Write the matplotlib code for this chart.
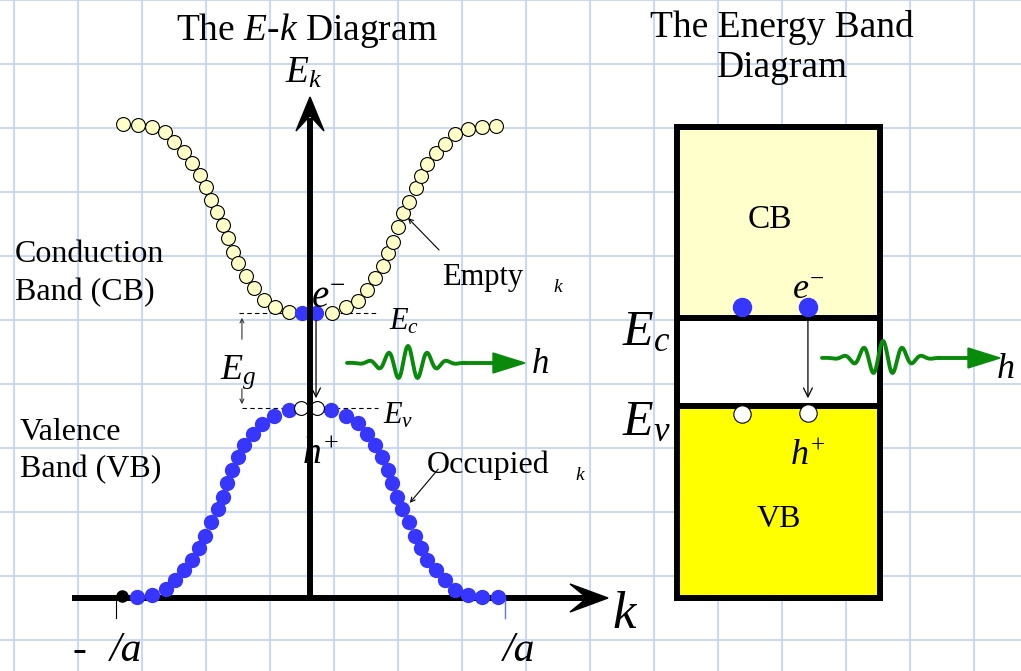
import numpy as np
import matplotlib.pyplot as plt
from matplotlib.patches import Polygon, Rectangle

plt.rcParams["font.family"] = ["Liberation Serif", "DejaVu Serif"]
plt.rcParams["mathtext.fontset"] = "custom"
plt.rcParams["mathtext.rm"] = "Liberation Serif"
plt.rcParams["mathtext.it"] = "Liberation Serif:italic"

W, H = 1021, 671

# E-k points: k in units of pi/a, E in arbitrary units (0 = k axis)
cb_k_left = [-0.961, -0.884, -0.812, -0.746, -0.699, -0.648, -0.607, -0.566, -0.535, -0.509,
             -0.478, -0.447, -0.422, -0.396, -0.370, -0.329, -0.288, -0.237, -0.180, -0.108]
cb_E_left = [4.74, 4.73, 4.71, 4.66, 4.56, 4.46, 4.35, 4.23, 4.11, 3.98,
             3.86, 3.73, 3.60, 3.46, 3.35, 3.22, 3.10, 2.98, 2.91, 2.86]
cb_k_right = [0.113, 0.185, 0.247, 0.293, 0.334, 0.375, 0.401, 0.427, 0.452, 0.478,
              0.509, 0.545, 0.571, 0.602, 0.648, 0.694, 0.746, 0.812, 0.884, 0.956]
cb_E_right = [2.85, 2.91, 2.97, 3.08, 3.20, 3.32, 3.45, 3.56, 3.71, 3.85,
              3.96, 4.10, 4.22, 4.34, 4.45, 4.54, 4.64, 4.69, 4.71, 4.72]
# electrons sitting at the CB minimum
cb_k_electrons = [-0.041, 0.031]
cb_E_electrons = [2.85, 2.85]

vb_k_left = [-0.967, -0.889, -0.812, -0.740, -0.694, -0.648, -0.607, -0.571, -0.540, -0.509,
             -0.473, -0.447, -0.427, -0.401, -0.370, -0.339, -0.293, -0.247, -0.185, -0.108]
vb_E_left = [0.02, 0.01, 0.03, 0.09, 0.18, 0.28, 0.38, 0.50, 0.62, 0.76,
             0.89, 1.01, 1.15, 1.28, 1.41, 1.53, 1.64, 1.74, 1.82, 1.88]
vb_k_right = [0.108, 0.185, 0.247, 0.293, 0.334, 0.370, 0.401, 0.422, 0.447, 0.473,
              0.509, 0.540, 0.571, 0.602, 0.648, 0.694, 0.746, 0.812, 0.884, 0.967]
vb_E_right = [1.88, 1.82, 1.75, 1.64, 1.53, 1.41, 1.28, 1.15, 1.01, 0.89,
              0.76, 0.62, 0.50, 0.38, 0.28, 0.18, 0.08, 0.03, 0.01, 0.01]
# holes left at the VB maximum
vb_k_holes = [-0.046, 0.036]
vb_E_holes = [1.90, 1.90]

Ec = 2.85
Ev = 1.90

# energy band diagram (x is fraction of box width)
box_bottom, box_Ev, box_Ec, box_top = 0.0, 1.92, 2.80, 4.71
band_e_x = [0.32, 0.645]
band_e_E = [2.91, 2.91]
band_h_x = [0.32, 0.645]
band_h_E = [1.84, 1.85]

GRID = "#c9d7fa"
GREEN = "#0a8a0a"
BLUE = "#3636ff"


def pixel_axes(fig):
    ax = fig.add_axes([0, 0, 1, 1])
    ax.set_xlim(0, W)
    ax.set_ylim(H, 0)
    ax.axis("off")
    ax.patch.set_alpha(0)
    return ax


def arrow_head(ax, tip, direction, length, width, notch=0.55, **kw):
    tip = np.array(tip, float)
    d = np.array(direction, float)
    n = np.array([-d[1], d[0]])
    pts = [tip,
           tip - d * length + n * width / 2,
           tip - d * length * notch,
           tip - d * length - n * width / 2]
    ax.add_patch(Polygon(pts, closed=True, **kw))


def photon(ax, x0, y0):
    xs = np.linspace(x0, x0 + 118, 400)
    xc = x0 + 61
    env = np.exp(-((xs - xc) / 27) ** 2)
    ys = y0 - 17 * env * np.cos(2 * np.pi * (xs - xc) / 19.5)
    ax.plot(xs, ys, color=GREEN, lw=2.8, zorder=8, solid_capstyle="round")
    ax.plot([x0 + 117, x0 + 150], [y0, y0], color=GREEN, lw=2.8, zorder=8)
    ax.add_patch(Polygon([(x0 + 146, y0 - 10), (x0 + 178, y0), (x0 + 146, y0 + 10)],
                         closed=True, color=GREEN, zorder=8))


def main():
    fig = plt.figure(figsize=(W / 100, H / 100), dpi=100)

    # bottom layer: grid paper and the k axis
    base = pixel_axes(fig)
    for x in np.arange(14, W, 64):
        base.axvline(x, color=GRID, lw=1.4, zorder=0)
    for y in np.arange(0, H, 64):
        base.axhline(y, color=GRID, lw=1.4, zorder=0)
    base.plot([72, 592], [598, 598], color="black", lw=4.3, zorder=2, solid_capstyle="butt")
    arrow_head(base, (608, 598), (1, 0), 38, 28, color="black", zorder=3)

    # E-k data axes
    ek = fig.add_axes([0, 0, 1, 1])
    ek.set_xlim(-310 / 194.5, (W - 310) / 194.5)
    ek.set_ylim(-0.73, 5.98)
    ek.axis("off")
    ek.patch.set_alpha(0)

    # band diagram axes
    eb = fig.add_axes([677 / W, 0, 203 / W, 1])
    eb.set_xlim(0, 1)
    eb.set_ylim(-0.73, 5.98)
    eb.axis("off")
    eb.patch.set_alpha(0)

    # top layer: E axis, texts, photons
    top = pixel_axes(fig)

    # zone edge ticks
    ek.plot([-1, -1], [0, -0.2], color="black", lw=0.8, zorder=3)
    ek.plot([1, 1], [0, -0.2], color="#5a78ff", lw=1.0, zorder=3)

    # band edge dashed lines
    ek.plot([-0.365, 0.35], [Ec, Ec], color="black", lw=0.8, ls=(0, (4, 3)), zorder=3)
    ek.plot([-0.35, 0.35], [Ev, Ev], color="black", lw=0.8, ls=(0, (4, 3)), zorder=3)

    # Eg arrows
    ek.annotate("", xy=(-0.35, Ec - 0.02), xytext=(-0.35, 2.56),
                arrowprops=dict(arrowstyle="->", lw=0.8, color="#333333", mutation_scale=7))
    ek.annotate("", xy=(-0.35, Ev + 0.01), xytext=(-0.35, 2.12),
                arrowprops=dict(arrowstyle="->", lw=0.8, color="#333333", mutation_scale=7))

    # conduction band (empty) and valence band (occupied)
    cb_style = dict(ls="none", marker="o", ms=10, mfc="#ffffc8", mec="black", mew=0.8, zorder=4)
    ek.plot(cb_k_left, cb_E_left, **cb_style)
    ek.plot(cb_k_right, cb_E_right, **cb_style)
    ek.plot(cb_k_electrons, cb_E_electrons, ls="none", marker="o", ms=10,
            mfc=BLUE, mec=BLUE, zorder=4)

    vb_style = dict(ls="none", marker="o", ms=10, mfc=BLUE, mec=BLUE, zorder=4)
    ek.plot(vb_k_left[1:], vb_E_left[1:], **vb_style)
    ek.plot(vb_k_right, vb_E_right, **vb_style)
    ek.plot(vb_k_left[:1], vb_E_left[:1], ls="none", marker="o", ms=8,
            mfc="black", mec="black", zorder=5)
    ek.plot(vb_k_holes, vb_E_holes, ls="none", marker="o", ms=10,
            mfc="white", mec="black", mew=0.8, zorder=4)

    # recombination arrow
    ek.annotate("", xy=(cb_k_electrons[1], Ev + 0.07), xytext=(cb_k_electrons[1], Ec - 0.05),
                arrowprops=dict(arrowstyle="->", lw=0.9, color="black", mutation_scale=16),
                zorder=7)

    # energy band diagram
    eb.add_patch(Rectangle((0, box_bottom), 1, box_Ev - box_bottom, fc="#ffff00", ec="none", zorder=2))
    eb.add_patch(Rectangle((0, box_Ev), 1, box_Ec - box_Ev, fc="white", ec="none", zorder=2))
    eb.add_patch(Rectangle((0, box_Ec), 1, box_top - box_Ec, fc="#ffffcc", ec="none", zorder=2))
    eb.add_patch(Rectangle((0, box_bottom), 1, box_top - box_bottom, fc="none", ec="black",
                           lw=4.3, joinstyle="miter", zorder=3, clip_on=False))
    eb.plot([0, 1], [box_Ec, box_Ec], color="black", lw=4.3, zorder=3, clip_on=False)
    eb.plot([0, 1], [box_Ev, box_Ev], color="black", lw=4.3, zorder=3, clip_on=False)
    eb.plot(band_e_x, band_e_E, ls="none", marker="o", ms=13, mfc=BLUE, mec=BLUE, zorder=4)
    eb.plot(band_h_x, band_h_E, ls="none", marker="o", ms=12.5, mfc="white", mec="black",
            mew=0.8, zorder=4)
    eb.annotate("", xy=(band_e_x[1], box_Ev + 0.05), xytext=(band_e_x[1], box_Ec),
                arrowprops=dict(arrowstyle="->", lw=0.9, color="black", mutation_scale=16))

    # E axis drawn over the points
    top.plot([310, 310], [598, 118], color="black", lw=4.3, zorder=6, solid_capstyle="butt")
    arrow_head(top, (310, 97), (0, -1), 34, 28, color="black", zorder=6)

    # leader lines
    top.annotate("", xy=(406, 216), xytext=(441, 252),
                 arrowprops=dict(arrowstyle="->", lw=0.8, color="black", mutation_scale=8))
    top.annotate("", xy=(408, 505), xytext=(440, 467),
                 arrowprops=dict(arrowstyle="->", lw=0.8, color="black", mutation_scale=8))

    photon(top, 347, 363)
    photon(top, 822, 358)

    # texts
    serif = dict(va="baseline", zorder=9)
    top.text(307, 40, "The $E$-$k$ Diagram", ha="center", fontsize=27, **serif)
    top.text(782, 37, "The Energy Band", ha="center", fontsize=27, **serif)
    top.text(782, 77, "Diagram", ha="center", fontsize=27, **serif)
    top.text(15, 262, "Conduction", fontsize=23, **serif)
    top.text(15, 300, "Band (CB)", fontsize=23, **serif)
    top.text(20, 440, "Valence", fontsize=23, **serif)
    top.text(20, 477, "Band (VB)", fontsize=23, **serif)
    top.text(442, 285, "Empty", fontsize=22, **serif)
    top.text(553, 292, "k", fontsize=14, style="italic", **serif)
    top.text(427, 473, "Occupied", fontsize=23, **serif)
    top.text(575, 480, "k", fontsize=14, style="italic", **serif)
    top.text(285, 83, "$E_k$", fontsize=27, **serif)
    top.text(389, 329, "$E_c$", fontsize=22, **serif)
    top.text(383, 423, "$E_v$", fontsize=22, **serif)
    top.text(220, 379, "$E_g$", fontsize=26, **serif)
    top.text(311, 308, "$e^{-}$", fontsize=28, **serif)
    top.text(302, 463, "$h^{+}$", fontsize=27, **serif)
    top.text(532, 373, "h", fontsize=25, style="italic", **serif)
    top.text(612, 628, "k", fontsize=38, style="italic", **serif)
    top.text(72, 661, "-", fontsize=30, **serif)
    top.text(110, 661, "/a", fontsize=30, style="italic", **serif)
    top.text(503, 661, "/a", fontsize=30, style="italic", **serif)

    top.text(770, 228, "CB", ha="center", fontsize=24, **serif)
    top.text(779, 527, "VB", ha="center", fontsize=23, **serif)
    top.text(622, 345, "$E_c$", fontsize=36, **serif)
    top.text(622, 435, "$E_v$", fontsize=36, **serif)
    top.text(792, 298, "$e^{-}$", fontsize=26, **serif)
    top.text(790, 465, "$h^{+}$", fontsize=26, **serif)
    top.text(997, 378, "h", fontsize=26, style="italic", **serif)

    fig.savefig("out.png", dpi=100)


if __name__ == "__main__":
    main()
